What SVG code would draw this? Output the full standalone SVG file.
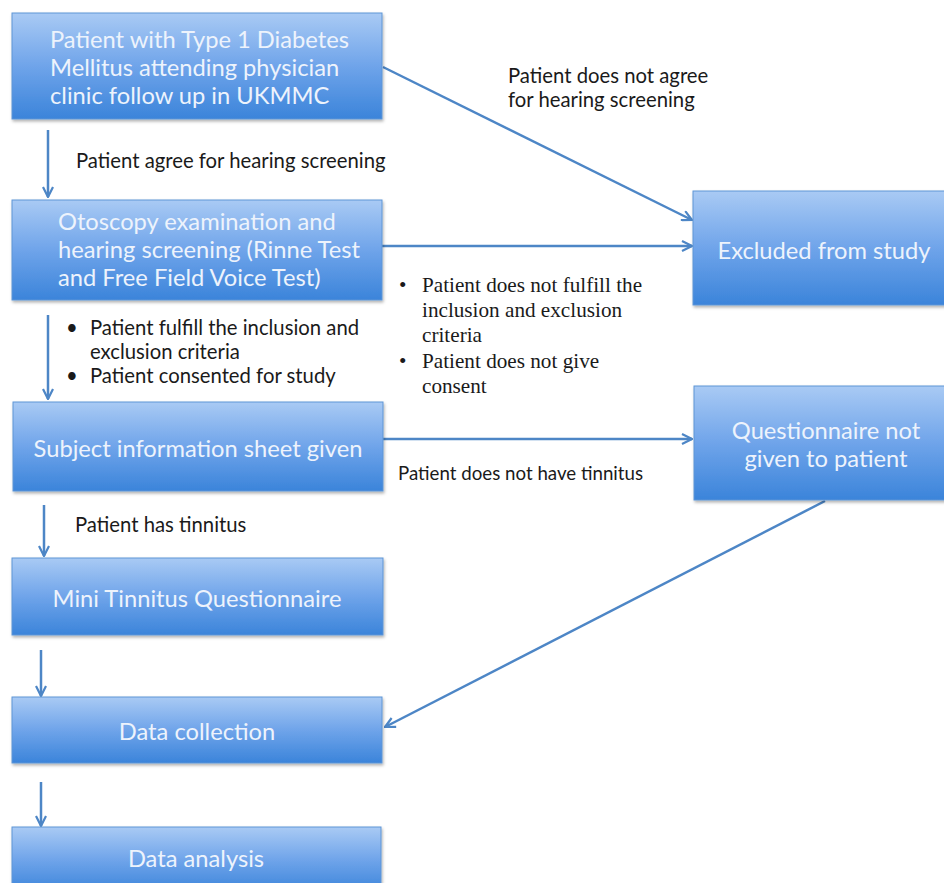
<svg xmlns="http://www.w3.org/2000/svg" width="944" height="883" viewBox="0 0 944 883">
<defs>
<linearGradient id="g" x1="0" y1="0" x2="0" y2="1">
<stop offset="0" stop-color="#a9caf4"/>
<stop offset="0.5" stop-color="#6fa4ea"/>
<stop offset="1" stop-color="#3b84da"/>
</linearGradient>
<filter id="sh" x="-5%" y="-5%" width="110%" height="120%">
<feDropShadow dx="1" dy="2" stdDeviation="1.5" flood-color="#000" flood-opacity="0.3"/>
</filter>
<marker id="ah" viewBox="0 0 12 12" refX="11" refY="6" markerWidth="12" markerHeight="12" markerUnits="userSpaceOnUse" orient="auto">
<path d="M1,1 L11,6 L1,11" fill="none" stroke="#4d86c6" stroke-width="2.2"/>
</marker>
<style>
.box{fill:url(#g);stroke:#5f95d6;stroke-width:1;filter:url(#sh)}
.bt{font-family:Lato,"Liberation Sans",sans-serif;font-size:23.7px;fill:#edf3fc}
.lb{font-family:Lato,"Liberation Sans",sans-serif;font-size:20.3px;fill:#1a1a1a}
.sf{font-family:"Liberation Serif","DejaVu Serif",serif;font-size:21.2px;fill:#1a1a1a}
.c{stroke:#4d86c6;stroke-width:2.5;fill:none;marker-end:url(#ah)}
</style>
</defs>
<rect width="944" height="883" fill="#fff"/>

<g id="connectors">
<line class="c" x1="48" y1="130" x2="48" y2="197"/>
<line class="c" x1="48" y1="315" x2="48" y2="399"/>
<line class="c" x1="44" y1="505" x2="44" y2="556"/>
<line class="c" x1="41" y1="650" x2="41" y2="696"/>
<line class="c" x1="41" y1="782" x2="41" y2="826"/>
<line class="c" x1="383" y1="67" x2="692" y2="220"/>
<line class="c" x1="382" y1="246" x2="692" y2="246"/>
<line class="c" x1="383" y1="439" x2="692" y2="439"/>
<line class="c" x1="825" y1="501" x2="385" y2="727"/>
</g>

<g id="node1">
<rect class="box" x="12" y="13" width="370" height="106"/>
<text class="bt" x="50" y="48">Patient with Type 1 Diabetes</text>
<text class="bt" x="50" y="76">Mellitus attending physician</text>
<text class="bt" x="50" y="104">clinic follow up in UKMMC</text>
</g>
<g id="node2">
<rect class="box" x="12" y="200" width="370" height="100"/>
<text class="bt" x="58" y="230">Otoscopy examination and</text>
<text class="bt" x="58" y="258">hearing screening (Rinne Test</text>
<text class="bt" x="58" y="286">and Free Field Voice Test)</text>
</g>
<g id="node3">
<rect class="box" x="13" y="402" width="370" height="89"/>
<text class="bt" x="198" y="457" text-anchor="middle">Subject information sheet given</text>
</g>
<g id="node4">
<rect class="box" x="12" y="558" width="371" height="77"/>
<text class="bt" x="197" y="607" text-anchor="middle">Mini Tinnitus Questionnaire</text>
</g>
<g id="node5">
<rect class="box" x="12" y="697" width="370" height="66"/>
<text class="bt" x="197" y="740" text-anchor="middle">Data collection</text>
</g>
<g id="node6">
<rect class="box" x="12" y="827" width="369" height="66"/>
<text class="bt" x="196" y="867" text-anchor="middle">Data analysis</text>
</g>
<g id="node7">
<rect class="box" x="693" y="191" width="262" height="114"/>
<text class="bt" x="824" y="259" text-anchor="middle">Excluded from study</text>
</g>
<g id="node8">
<rect class="box" x="694" y="386" width="262" height="114"/>
<text class="bt" x="826" y="439" text-anchor="middle">Questionnaire not</text>
<text class="bt" x="826" y="467" text-anchor="middle">given to patient</text>
</g>

<g id="labels">
<text class="lb" x="508" y="83">Patient does not agree</text>
<text class="lb" x="508" y="107">for hearing screening</text>
<text class="lb" x="76" y="168">Patient agree for hearing screening</text>
<text class="lb" x="66" y="335">•</text>
<text class="lb" x="90" y="335">Patient fulfill the inclusion and</text>
<text class="lb" x="90" y="359">exclusion criteria</text>
<text class="lb" x="66" y="383">•</text>
<text class="lb" x="90" y="383">Patient consented for study</text>
<text class="lb" x="75" y="532">Patient has tinnitus</text>
<text class="lb" x="398" y="480" style="font-size:18.7px">Patient does not have tinnitus</text>
<text class="sf" x="399" y="292">•</text>
<text class="sf" x="422" y="292">Patient does not fulfill the</text>
<text class="sf" x="422" y="317">inclusion and exclusion</text>
<text class="sf" x="422" y="342">criteria</text>
<text class="sf" x="399" y="368">•</text>
<text class="sf" x="422" y="368">Patient does not give</text>
<text class="sf" x="422" y="393">consent</text>
</g>
</svg>
